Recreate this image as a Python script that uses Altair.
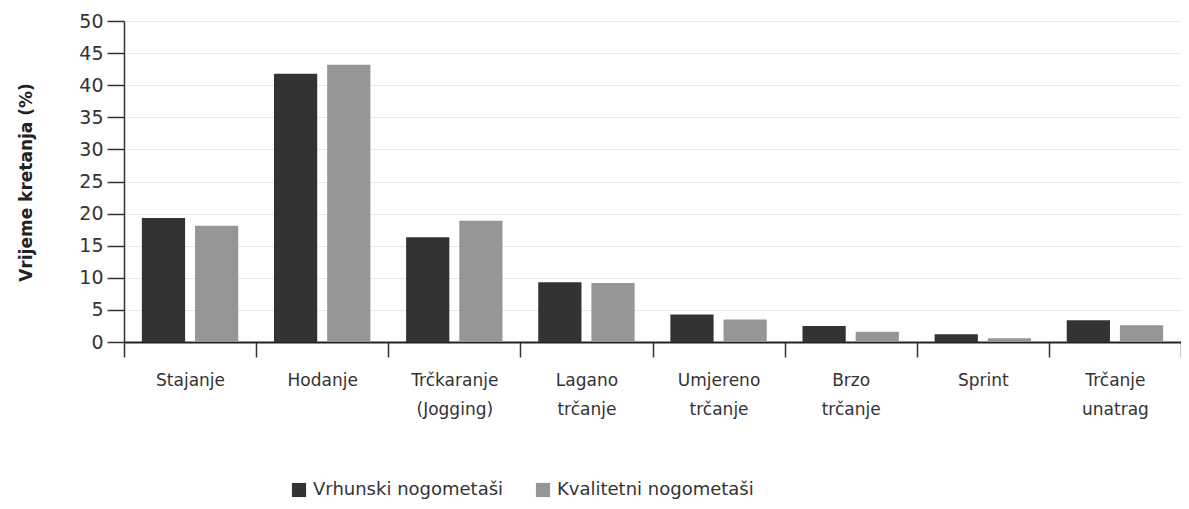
import altair as alt
import pandas as pd

categories = ["Stajanje", "Hodanje", "Trčkaranje|(Jogging)", "Lagano|trčanje",
              "Umjereno|trčanje", "Brzo|trčanje", "Sprint", "Trčanje|unatrag"]
series = ["Vrhunski nogometaši", "Kvalitetni nogometaši"]
vrhunski = [19.3, 41.8, 16.3, 9.3, 4.3, 2.5, 1.2, 3.4]
kvalitetni = [18.1, 43.2, 18.9, 9.2, 3.5, 1.6, 0.6, 2.6]
colors = ["#333333", "#969696"]
y_ticks = [0, 5, 10, 15, 20, 25, 30, 35, 40, 45, 50]

rows = []
for c, a, b in zip(categories, vrhunski, kvalitetni):
    rows.append({"cat": c, "serija": series[0], "v": a})
    rows.append({"cat": c, "serija": series[1], "v": b})
df = pd.DataFrame(rows)

FONT = "DejaVu Sans"

chart = alt.Chart(df).mark_bar().encode(
    x=alt.X("cat:N", sort=categories, title=None,
            scale=alt.Scale(paddingInner=0, paddingOuter=0),
            axis=alt.Axis(labelAngle=0, labelExpr="split(datum.label, '|')",
                          labelFontSize=17, labelFont=FONT, labelColor="#333333",
                          labelLineHeight=29, labelPadding=15, labelBaseline="top",
                          labelLimit=0,
                          tickBand="extent", tickSize=15, tickColor="#333333", tickWidth=1.5,
                          domainColor="#222222", domainWidth=2, grid=False)),
    xOffset=alt.XOffset("serija:N", sort=series,
                        scale=alt.Scale(paddingInner=0.187, paddingOuter=0.336)),
    y=alt.Y("v:Q", scale=alt.Scale(domain=[0, 50], nice=False),
            axis=alt.Axis(values=y_ticks, title="Vrijeme kretanja (%)",
                          titleFont=FONT, titleFontSize=17, titleFontWeight="bold",
                          titleColor="#222222", titleX=-98, titleY=161, titleAngle=270,
                          titleAlign="center", titleBaseline="middle",
                          labelFontSize=19, labelFont=FONT, labelColor="#333333",
                          labelPadding=4, tickSize=17, tickColor="#333333", tickWidth=1.5,
                          domainColor="#333333", domainWidth=1.5,
                          gridColor="#e8e8e8", gridWidth=1)),
    color=alt.Color("serija:N", sort=series,
                    scale=alt.Scale(domain=series, range=colors),
                    legend=alt.Legend(title=None, orient="none", direction="horizontal",
                                      legendX=166, legendY=460,
                                      symbolType="square", symbolSize=200,
                                      symbolStrokeWidth=0, labelLimit=0,
                                      labelFont=FONT, labelFontSize=18, labelColor="#333333",
                                      columnPadding=30, labelOffset=5)),
).properties(
    width=1057, height=321,
    background="white",
    autosize=alt.AutoSizeParams(type="none"),
    padding={"left": 116, "top": 13, "right": 0, "bottom": 158},
).configure_view(stroke=None)

chart.save("out.html", embed_options={"renderer": "svg", "actions": False})
